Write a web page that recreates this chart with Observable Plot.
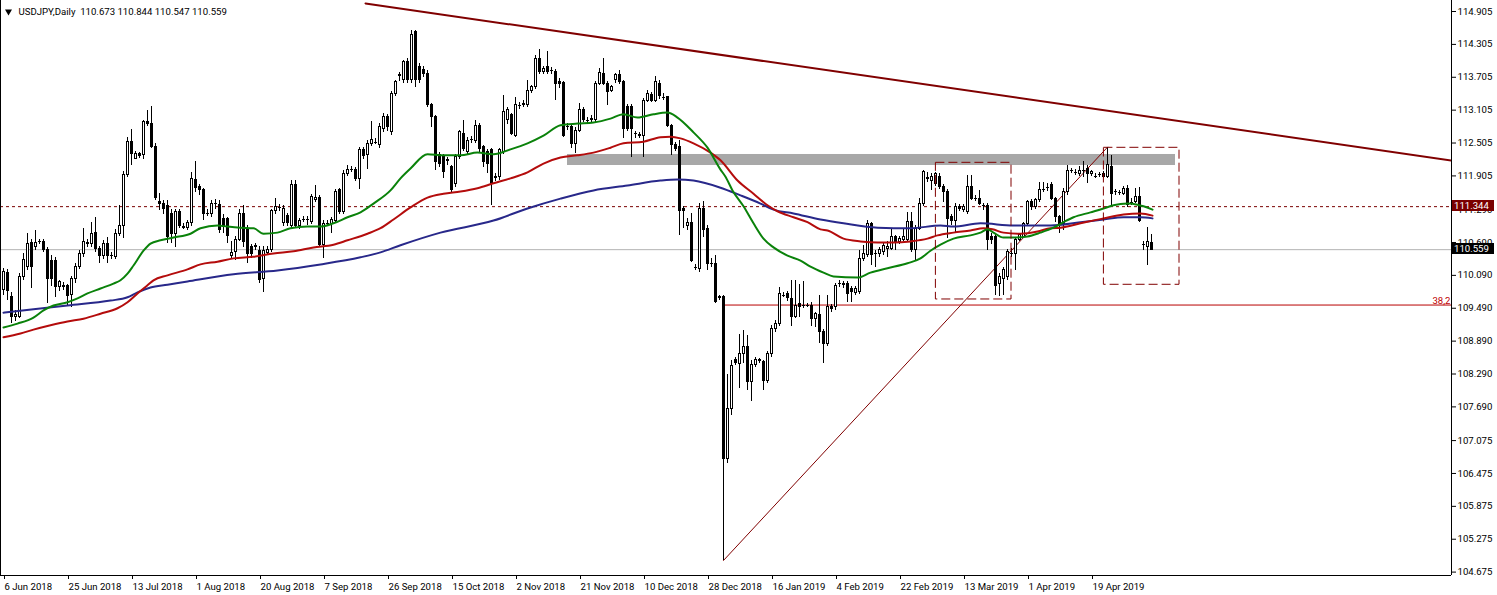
<!DOCTYPE html>
<html><head><meta charset="utf-8">
<script src="https://cdn.jsdelivr.net/npm/d3@7"></script>
<script src="https://cdn.jsdelivr.net/npm/@observablehq/plot@0.6"></script>
<style>
html,body{margin:0;padding:0;background:#fff;overflow:hidden;}
#chart svg{display:block;}
</style>
</head><body><div id="chart"></div>
<script>
const title = "USDJPY,Daily  110.673 110.844 110.547 110.559";

// daily bars [open, high, low, close]
const candles = [
[109.82,110.22,109.72,110.15],[110.13,110.20,109.63,109.81],[109.70,109.78,109.21,109.33],[109.33,109.45,109.25,109.36],
[109.33,110.12,109.30,110.06],[110.06,110.48,110.00,110.37],[110.24,110.85,110.18,110.67],[110.68,110.75,109.85,110.24],
[110.61,110.91,110.55,110.68],[110.70,110.75,110.65,110.70],[110.70,110.75,110.50,110.56],[110.56,110.60,109.57,110.03],
[110.36,110.45,109.88,110.03],[110.36,110.42,109.69,109.88],[109.88,110.00,109.80,109.97],[109.88,109.96,109.82,109.90],
[109.90,109.93,109.54,109.72],[109.74,110.07,109.50,110.03],[110.03,110.30,109.95,110.24],[110.24,110.55,110.20,110.48],
[110.48,110.94,110.42,110.70],[110.68,110.75,110.60,110.66],[110.67,111.06,110.60,110.85],[110.86,111.15,110.50,110.57],
[110.58,110.62,110.30,110.44],[110.44,110.72,110.38,110.66],[110.66,110.79,110.30,110.45],[110.45,110.50,110.38,110.44],
[110.42,110.92,110.38,110.85],[110.85,111.36,110.80,111.00],[111.00,111.98,110.76,111.93],[111.93,112.61,111.88,112.53],
[112.53,112.75,112.10,112.31],[112.22,112.35,112.20,112.31],[112.30,112.33,112.22,112.27],[112.28,112.92,112.20,112.89],
[112.89,113.10,112.80,112.86],[112.86,113.17,112.40,112.44],[112.44,112.50,111.45,111.50],[111.43,111.58,111.27,111.40],
[111.40,111.45,111.20,111.30],[111.36,111.45,110.67,110.79],[111.21,111.30,110.67,110.85],[110.85,111.30,110.60,111.24],
[111.24,111.30,110.95,111.00],[110.98,111.04,110.92,110.96],[110.95,111.10,110.90,111.04],[111.04,111.97,110.98,111.85],
[111.83,112.16,111.60,111.68],[111.70,111.75,111.55,111.64],[111.64,111.68,111.10,111.21],[111.22,111.30,111.16,111.23],
[111.21,111.45,111.15,111.40],[111.40,111.48,111.30,111.39],[111.37,111.45,110.85,110.92],[111.12,111.20,110.85,110.97],
[111.12,111.15,110.67,110.81],[110.45,110.70,110.40,110.50],[110.51,110.80,110.36,110.74],[110.74,111.30,110.70,111.21],
[111.21,111.36,110.60,110.70],[110.91,111.00,110.30,110.48],[110.61,110.65,110.40,110.48],[110.60,110.68,110.55,110.62],
[110.54,110.62,109.95,110.01],[110.03,110.62,109.78,110.53],[110.50,110.62,110.45,110.55],[110.55,111.30,110.50,111.27],
[111.27,111.49,111.20,111.33],[111.33,111.38,111.25,111.32],[111.04,111.36,110.98,111.30],[111.18,111.22,110.98,111.04],
[111.00,111.82,110.95,111.73],[111.73,111.82,110.95,111.00],[110.99,111.12,110.93,111.09],[111.11,111.16,111.05,111.11],
[111.10,111.16,111.00,111.11],[111.06,111.56,111.02,111.52],[111.46,111.73,111.42,111.50],[111.50,111.55,110.61,110.65],
[110.65,111.10,110.39,111.03],[111.04,111.10,111.00,111.05],[111.03,111.14,110.85,111.10],[111.09,111.65,111.05,111.61],
[111.64,111.68,111.20,111.24],[111.24,112.00,111.20,111.94],[111.94,112.10,111.90,112.02],[112.02,112.07,111.97,112.02],
[112.02,112.06,111.80,111.85],[111.85,112.42,111.65,112.37],[112.37,112.42,112.20,112.26],[112.28,112.55,112.03,112.49],
[112.48,112.89,112.45,112.56],[112.52,112.58,112.47,112.52],[112.46,112.86,112.40,112.79],[112.76,113.05,112.70,112.98],
[112.98,113.03,112.72,112.80],[112.70,113.44,112.64,113.40],[113.40,113.65,113.35,113.62],[113.72,113.80,113.62,113.74],
[113.65,114.02,113.60,113.98],[113.98,114.05,113.60,113.65],[113.65,114.56,113.60,114.47],[114.53,114.56,113.52,113.65],
[113.89,113.95,113.60,113.66],[113.83,113.90,113.70,113.77],[113.77,113.82,113.15,113.19],[113.19,113.22,112.79,112.98],
[112.98,113.00,112.00,112.16],[112.28,112.33,112.05,112.12],[112.25,112.30,111.85,111.97],[112.18,112.25,112.10,112.20],
[112.06,112.10,111.61,111.64],[111.76,112.30,111.70,112.25],[112.25,112.73,112.20,112.70],[112.67,112.92,112.35,112.40],
[112.34,112.60,112.30,112.55],[112.57,112.63,112.50,112.58],[112.55,112.92,112.50,112.82],[112.82,112.86,112.31,112.40],
[112.43,112.46,112.06,112.16],[112.34,112.38,111.94,112.12],[112.37,112.40,111.37,111.76],[111.86,111.95,111.80,111.88],
[111.88,112.40,111.82,112.37],[112.34,113.37,112.30,113.07],[112.92,113.15,112.85,113.10],[113.01,113.05,112.64,112.67],
[112.64,113.34,112.60,113.19],[113.19,113.25,113.12,113.18],[113.20,113.28,113.15,113.22],[113.19,113.65,113.15,113.46],
[113.46,113.56,113.40,113.52],[113.52,114.10,113.48,114.04],[114.04,114.21,113.75,113.80],[113.80,113.90,113.75,113.86],
[113.89,114.18,113.75,113.80],[113.83,113.88,113.76,113.82],[113.80,113.85,113.28,113.59],[113.62,113.68,113.50,113.58],
[113.60,113.62,112.61,112.64],[112.80,112.86,112.74,112.81],[112.79,112.83,112.40,112.49],[112.49,112.78,112.31,112.73],
[112.73,113.22,112.70,113.10],[113.11,113.15,112.88,112.92],[112.93,112.98,112.86,112.92],[112.92,113.00,112.87,112.94],
[112.92,113.63,112.88,113.59],[113.59,113.86,113.55,113.78],[113.77,114.04,113.55,113.59],[113.59,113.62,113.19,113.43],
[113.46,113.56,113.42,113.52],[113.65,113.78,113.60,113.74],[113.74,113.83,113.58,113.62],[113.62,113.65,112.58,112.76],
[113.16,113.20,112.72,112.76],[113.16,113.20,112.25,112.76],[112.67,112.72,112.58,112.68],[112.64,112.70,112.58,112.66],
[112.64,113.32,112.25,113.28],[113.28,113.46,113.25,113.40],[113.39,113.43,113.25,113.28],[113.28,113.71,113.25,113.62],
[113.59,113.65,113.30,113.37],[113.35,113.40,113.28,113.34],[113.34,113.36,112.79,112.82],[112.82,112.85,112.28,112.46],
[112.46,112.52,112.35,112.40],[112.43,112.55,110.82,111.27],[111.30,111.35,110.95,111.27],[111.00,111.12,110.91,111.04],
[111.04,111.21,110.33,110.36],[110.24,110.28,110.18,110.24],[110.21,111.40,110.15,111.30],[111.30,111.43,110.79,110.91],
[110.94,111.00,110.18,110.30],[110.31,110.39,110.24,110.32],[110.30,110.45,109.57,109.60],[109.69,109.72,109.63,109.67],
[109.69,109.72,104.89,106.74],[106.74,108.29,106.65,107.65],[107.65,108.54,107.53,108.44],[108.54,108.60,108.44,108.49],
[108.48,109.02,108.02,108.66],[108.66,109.08,108.48,108.78],[108.78,108.99,107.99,108.14],[108.14,108.54,107.78,108.45],
[108.45,108.60,108.41,108.54],[108.53,108.57,108.48,108.55],[108.51,108.54,107.99,108.17],[108.17,108.70,108.11,108.66],
[108.66,109.17,108.60,109.11],[109.11,109.26,109.05,109.21],[109.21,109.87,109.15,109.75],[109.72,109.78,109.68,109.73],
[109.75,109.80,109.62,109.68],[109.66,110.00,109.15,109.33],[109.33,109.99,109.30,109.54],[109.57,109.93,109.33,109.51],
[109.55,109.97,109.48,109.54],[109.54,109.58,109.50,109.54],[109.54,109.60,109.15,109.30],[109.30,109.42,109.14,109.38],
[109.36,109.72,108.84,109.05],[109.05,109.10,108.49,108.84],[108.84,109.72,108.80,109.51],[109.52,109.56,109.42,109.48],
[109.51,109.95,109.45,109.90],[109.93,110.00,109.86,109.94],[109.92,109.98,109.85,109.94],[109.94,109.98,109.60,109.75],
[109.84,109.88,109.60,109.78],[109.77,109.88,109.72,109.84],[109.78,110.54,109.74,110.39],[110.39,110.64,110.35,110.48],
[110.46,111.10,110.42,111.03],[111.03,111.06,110.27,110.46],[110.49,110.55,110.24,110.48],[110.48,110.60,110.42,110.55],
[110.51,110.68,110.46,110.62],[110.58,110.70,110.42,110.61],[110.58,110.94,110.54,110.79],[110.79,110.82,110.55,110.70],
[110.70,110.80,110.66,110.76],[110.73,110.94,110.70,110.79],[110.73,111.24,110.70,111.06],[111.06,111.24,110.50,110.55],
[110.55,111.00,110.36,110.94],[110.94,111.49,110.90,111.40],[111.40,112.00,111.35,111.97],[111.87,111.97,111.78,111.85],
[111.82,111.94,111.64,111.88],[111.76,111.97,111.72,111.94],[111.88,111.94,111.66,111.70],[111.70,111.74,111.42,111.61],
[111.61,111.66,110.76,111.12],[111.15,111.20,111.00,111.09],[111.09,111.40,110.88,111.34],[111.34,111.38,111.26,111.30],
[111.28,111.38,111.24,111.34],[111.24,111.91,111.20,111.70],[111.70,111.91,111.45,111.49],[111.49,111.55,111.43,111.50],
[111.49,111.64,111.36,111.40],[111.37,111.40,111.27,111.36],[111.36,111.40,110.54,110.73],[110.79,110.85,110.65,110.73],
[110.79,110.84,109.72,109.90],[109.93,110.12,109.70,110.06],[110.03,110.24,109.72,110.18],[110.06,110.56,110.00,110.51],
[110.49,110.58,110.42,110.50],[110.48,110.78,110.18,110.73],[110.73,110.86,110.70,110.82],[110.79,111.06,110.76,111.03],
[111.03,111.46,110.98,111.43],[111.43,111.48,111.28,111.33],[111.34,111.49,111.30,111.46],[111.46,111.79,111.42,111.64],
[111.66,111.79,111.60,111.67],[111.70,111.76,111.62,111.70],[111.73,111.79,111.46,111.49],[111.49,111.52,111.06,111.15],
[111.15,111.18,110.85,111.03],[111.03,111.67,110.91,111.61],[111.61,112.10,111.55,112.00],[112.00,112.04,111.94,112.01],
[111.98,112.02,111.92,111.97],[111.94,112.07,111.90,112.00],[112.00,112.16,111.88,112.01],[112.04,112.10,111.76,111.94],
[111.94,112.00,111.90,111.97],[111.90,111.94,111.85,111.89],[111.93,111.97,111.88,111.93],[111.94,111.98,111.85,111.88],
[111.88,112.43,111.85,112.10],[112.07,112.28,111.37,111.58],[111.62,111.66,111.55,111.61],[111.60,111.64,111.55,111.59],
[111.58,111.72,111.54,111.67],[111.67,111.73,111.33,111.37],[111.43,111.50,111.37,111.42],[111.43,111.67,111.40,111.52],
[111.52,111.70,111.06,111.09],[110.64,110.70,110.55,110.65],[110.61,110.97,110.27,110.70],[110.673,110.844,110.547,110.559]
];

// moving averages: [bar, price]
const maGreen = [[0,109.14],[3.5,109.21],[7.5,109.32],[10,109.45],[12.5,109.54],[16,109.60],[18.5,109.67],[21,109.76],[24.25,109.85],[27.5,109.94],[29.25,110.00],[31,110.12],[32.5,110.27],[35,110.54],[36.75,110.67],[39.25,110.73],[42.5,110.78],[46.75,110.85],[49.25,110.95],[53.5,111.00],[56,110.98],[59.25,110.96],[62.5,110.95],[65,110.85],[68.5,110.87],[71.75,110.95],[76,110.98],[79.25,110.98],[82.5,111.04],[86,111.15],[89.25,111.24],[92.5,111.40],[96.75,111.64],[99.25,111.86],[101.75,112.04],[106,112.30],[110,112.28],[114.25,112.28],[118.5,112.33],[122.5,112.30],[126.75,112.39],[131,112.50],[135,112.64],[139.25,112.83],[143.5,112.86],[147.5,112.88],[151.75,112.95],[155,113.03],[158.5,112.97],[162.5,113.03],[166,113.06],[168.5,112.97],[172.5,112.70],[176,112.42],[179.25,112.02],[180.5,111.89],[182.25,111.64],[185,111.35],[187.5,111.04],[190,110.76],[192.5,110.60],[196,110.45],[199.25,110.36],[201.75,110.25],[205,110.14],[207.5,110.07],[213.5,110.05],[216.75,110.14],[221,110.22],[226,110.31],[229.25,110.40],[231.75,110.54],[234.25,110.65],[237.5,110.76],[241.75,110.82],[244.25,110.87],[246,110.93],[247.5,110.87],[250,110.78],[252.5,110.78],[256,110.80],[259.25,110.87],[262.5,110.96],[265,111.06],[267.5,111.15],[271.75,111.24],[275,111.31],[277.5,111.37],[281,111.40],[283.5,111.38],[285,111.35],[287.25,111.29]];
const maRed = [[0,108.96],[4.25,109.03],[7.5,109.10],[11.75,109.18],[16,109.25],[20,109.30],[24.25,109.39],[28.5,109.49],[31,109.60],[33.5,109.76],[36,109.91],[37.5,110.00],[41,110.09],[46,110.20],[49.25,110.29],[53.5,110.34],[57.5,110.40],[62.5,110.43],[67.5,110.49],[72.5,110.53],[77.5,110.60],[82.5,110.65],[86,110.73],[91,110.85],[94.25,110.95],[97.5,111.11],[101.75,111.33],[106,111.51],[110,111.58],[114.25,111.62],[118.5,111.68],[122.5,111.77],[126.75,111.86],[131,111.97],[135,112.13],[139.25,112.24],[143.5,112.28],[147.5,112.33],[151.75,112.42],[155,112.50],[160,112.53],[164.25,112.61],[166.75,112.62],[169.25,112.59],[172.5,112.50],[176.75,112.33],[179.25,112.19],[183.5,111.82],[187.5,111.58],[191,111.37],[193.5,111.26],[197.5,111.15],[201,111.06],[204.25,110.93],[206,110.91],[210,110.76],[214.25,110.71],[218.5,110.69],[222.5,110.69],[226.75,110.71],[231,110.76],[233.5,110.82],[237.5,110.87],[241.75,110.91],[245,110.95],[247.25,110.93],[250,110.87],[254.25,110.85],[258.5,110.89],[261.75,110.95],[264.25,110.96],[269.25,111.04],[275,111.13],[280,111.20],[284.25,111.22],[287.25,111.18]];
const maNavy = [[0,109.41],[7.5,109.47],[16,109.54],[26.75,109.63],[31,109.69],[33.5,109.78],[36.75,109.87],[41,109.92],[46,109.98],[57.5,110.11],[68.5,110.18],[79.25,110.29],[89.25,110.42],[94.25,110.51],[99.25,110.64],[109.25,110.87],[122.5,111.09],[131,111.31],[139.25,111.49],[147.5,111.64],[156,111.73],[164.25,111.82],[168.5,111.84],[172.5,111.82],[179.25,111.69],[184.25,111.55],[189.25,111.40],[192.5,111.29],[197.5,111.22],[204.25,111.11],[210,111.04],[218.5,110.96],[226.75,110.95],[234.25,111.00],[237.5,110.98],[244.25,111.04],[252.5,111.00],[261.75,111.00],[269.25,111.06],[275,111.11],[280,111.15],[284.25,111.15],[287.25,111.13]];

const dateLabels = ["6 Jun 2018","25 Jun 2018","13 Jul 2018","1 Aug 2018","20 Aug 2018","7 Sep 2018","26 Sep 2018","15 Oct 2018","2 Nov 2018","21 Nov 2018","10 Dec 2018","28 Dec 2018","16 Jan 2019","4 Feb 2019","22 Feb 2019","13 Mar 2019","1 Apr 2019","19 Apr 2019"];
const dateTickBars = [0,16,32,48,64,80,96,112,128,144,160,176,192,208,224,240,256,272];
const priceTicks = [114.905,114.305,113.705,113.105,112.505,111.905,111.290,110.690,110.090,109.490,108.890,108.290,107.690,107.075,106.475,105.875,105.275,104.675];

// drawn objects
const trendPoints = [[90.5,115.051],[362,112.186]];
const zone = [141, 293, 112.095, 112.296];          // bar1, bar2, price1, price2
const boxes = [[233.1, 252, 109.650, 112.144], [275.1, 294, 109.918, 112.418]];
const fibLow = [180, 104.887];
const fibHigh = [276, 112.43];
const fibRatio = 0.382;
const fibText = "38,2";
const hLine = 111.344;
const lastPrice = 110.559;

const barMin = -0.75, barMax = 362;
const priceMin = 104.613, priceMax = 115.106;

const data = candles.map(([o,h,l,c], i) => ({i, o, h, l, c}));
const upBars = data.filter(d => d.c - d.o > 0.015);
const downBars = data.filter(d => d.o - d.c > 0.015);
const dojiBars = data.filter(d => Math.abs(d.c - d.o) <= 0.015);
const fibLevel = fibHigh[1] - fibRatio * (fibHigh[1] - fibLow[1]);

const FONT = "Roboto, 'Liberation Sans', sans-serif";
const FS = 9.6;

function tag(value, bg) {
  return (index, scales, values, dims) => {
    const y = Math.round(scales.y(value));
    const x0 = dims.width - dims.marginRight + 1;
    const g = d3.create("svg:g");
    g.append("rect").attr("x", x0).attr("y", y - 6).attr("width", 42).attr("height", 11).attr("fill", bg);
    g.append("text").attr("x", x0 + 2).attr("y", y).attr("dy", "0.33em")
      .attr("text-anchor", "start")
      .attr("fill", "white").attr("font-size", FS).attr("font-family", FONT)
      .text(d3.format(".3f")(value));
    return g.node();
  };
}

const chart = Plot.plot({
  width: 1497, height: 595,
  marginLeft: 0, marginRight: 46, marginTop: 0, marginBottom: 20,
  x: {domain: [barMin, barMax], axis: null},
  y: {domain: [priceMin, priceMax], axis: null},
  style: {fontFamily: FONT, fontSize: FS + "px", background: "white", color: "black", overflow: "visible"},
  marks: [
    Plot.rect([zone], {x1: d => d[0], x2: d => d[1], y1: d => d[2], y2: d => d[3], fill: "#a8a8a8"}),
    Plot.ruleY([lastPrice], {stroke: "#b4b4b4"}),
    Plot.ruleY([hLine], {stroke: "#7a0000", strokeDasharray: "3,3"}),
    Plot.ruleY([fibLevel], {x1: fibLow[0], x2: barMax, stroke: "#b80000"}),
    Plot.line([fibLow, fibHigh], {x: d => d[0], y: d => d[1], stroke: "#800000", strokeWidth: 1}),
    Plot.ruleX(data, {x: "i", y1: "l", y2: "h", stroke: "black", shapeRendering: "crispEdges"}),
    Plot.rect(upBars, {x1: d => d.i - 0.25, x2: d => d.i + 0.25, y1: "o", y2: "c", fill: "white", stroke: "black", shapeRendering: "crispEdges"}),
    Plot.rect(downBars, {x1: d => d.i - 0.25, x2: d => d.i + 0.25, y1: "o", y2: "c", fill: "black", stroke: "black", shapeRendering: "crispEdges"}),
    Plot.ruleY(dojiBars, {x1: d => d.i - 0.375, x2: d => d.i + 0.375, y: d => (d.o + d.c) / 2, stroke: "black", shapeRendering: "crispEdges"}),
    Plot.line(maNavy, {x: d => d[0], y: d => d[1], stroke: "#28288a", strokeWidth: 2, curve: "monotone-x"}),
    Plot.line(maRed, {x: d => d[0], y: d => d[1], stroke: "#b40c0c", strokeWidth: 2, curve: "monotone-x"}),
    Plot.line(maGreen, {x: d => d[0], y: d => d[1], stroke: "#0a820a", strokeWidth: 2, curve: "monotone-x"}),
    Plot.rect(boxes, {x1: d => d[0], x2: d => d[1], y1: d => d[2], y2: d => d[3], fill: "none", stroke: "#800000", strokeDasharray: "9,4"}),
    Plot.line(trendPoints, {x: d => d[0], y: d => d[1], stroke: "#800000", strokeWidth: 2, clip: true}),
    Plot.text([fibText], {x: barMax, y: fibLevel, textAnchor: "end", lineAnchor: "bottom", dx: -1, dy: -1, fill: "#c00000", fontSize: FS}),
    Plot.ruleX([barMin], {stroke: "black"}),
    Plot.ruleX([barMax], {stroke: "black"}),
    Plot.ruleY([priceMin], {stroke: "black"}),
    Plot.axisY({ticks: priceTicks, anchor: "right", tickSize: 4, tickPadding: 2, tickFormat: d3.format(".3f"), label: null, fontSize: FS}),
    Plot.axisX({ticks: dateTickBars, anchor: "bottom", tickSize: 4, tickPadding: 4, tickFormat: d => dateLabels[dateTickBars.indexOf(d)], textAnchor: "start", dx: 1, label: null, fontSize: FS}),
    tag(hLine, "#7a0000"),
    tag(lastPrice, "#000000"),
    Plot.dot([0], {frameAnchor: "top-left", dx: 8, dy: 11, symbol: "triangle", rotate: 180, r: 2.6, fill: "black", stroke: "none"}),
    Plot.text([title], {frameAnchor: "top-left", dx: 18, dy: 8, textAnchor: "start", lineAnchor: "top", fill: "black", fontSize: FS})
  ]
});
document.getElementById("chart").appendChild(chart);
</script>
</body></html>
